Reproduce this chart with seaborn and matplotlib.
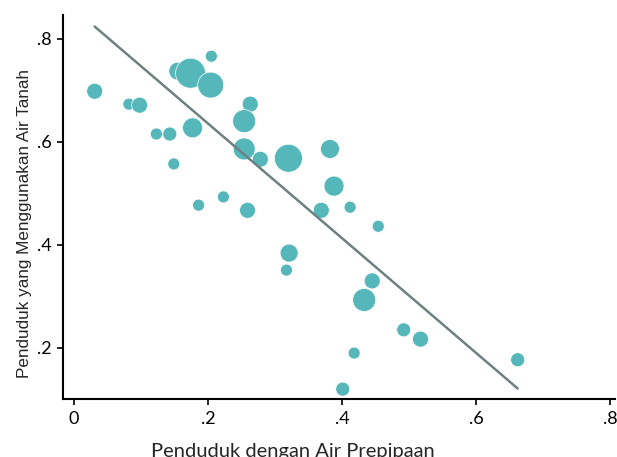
import numpy as np
import pandas as pd
import seaborn as sns
import matplotlib.pyplot as plt

# share of people with piped water vs. share using groundwater (bubble = weight)
piped = [0.031, 0.082, 0.098, 0.123, 0.143, 0.177, 0.149, 0.186, 0.155, 0.174, 0.205,
         0.204, 0.223, 0.263, 0.254, 0.254, 0.278, 0.320, 0.259, 0.382, 0.388, 0.412,
         0.369, 0.454, 0.321, 0.317, 0.445, 0.433, 0.492, 0.517, 0.418, 0.401, 0.662]
ground = [0.698, 0.673, 0.671, 0.615, 0.615, 0.627, 0.557, 0.477, 0.737, 0.733, 0.766,
          0.710, 0.493, 0.673, 0.640, 0.586, 0.566, 0.568, 0.467, 0.586, 0.514, 0.473,
          0.467, 0.436, 0.384, 0.351, 0.330, 0.293, 0.235, 0.217, 0.190, 0.120, 0.177]
weight = [64, 36, 64, 36, 49, 100, 36, 36, 81, 225, 36, 169, 36, 64, 132, 121, 64, 196,
          64, 90, 100, 36, 64, 36, 81, 36, 64, 132, 49, 64, 36, 49, 49]

# fitted line
fit_intercept = 0.858
fit_slope = -1.113

x_ticks = [0, 0.2, 0.4, 0.6, 0.8]
x_labels = ["0", ".2", ".4", ".6", ".8"]
y_ticks = [0.2, 0.4, 0.6, 0.8]
y_labels = [".2", ".4", ".6", ".8"]

df = pd.DataFrame({"piped": piped, "ground": ground, "weight": weight})

sns.set_style("ticks")
plt.rcParams["font.family"] = ["Lato", "DejaVu Sans"]

fig = plt.figure(figsize=(6.17, 4.57), dpi=100)
ax = fig.add_axes([0.102, 0.127, 0.895, 0.840])

sns.scatterplot(data=df, x="piped", y="ground", size="weight",
                size_norm=(0, max(weight)), sizes=(0, 466),
                color="#55B7BA", edgecolor="white", linewidth=0.5,
                alpha=1, legend=False, ax=ax, zorder=2)

xs = np.array([df["piped"].min(), df["piped"].max()])
ax.plot(xs, fit_intercept + fit_slope * xs, color="#6E8081", lw=1.8, zorder=3)

ax.set_xlim(-0.0164, 0.8074)
ax.set_ylim(0.1009, 0.8458)
ax.set_xticks(x_ticks, x_labels)
ax.set_yticks(y_ticks, y_labels)
ax.tick_params(axis="both", length=4, width=1.2, labelsize=13, color="black",
               labelcolor="black", pad=4)
ax.tick_params(axis="x", pad=5)

ax.set_xlabel("Penduduk dengan Air Prepipaan", fontsize=14.5, va="top")
ax.xaxis.set_label_coords(0.417, -0.116)
ax.set_ylabel("Penduduk yang Menggunakan Air Tanah", fontsize=12.3,
              family=["Liberation Sans"], va="center")
ax.yaxis.set_label_coords(-0.069, 0.458)

sns.despine(ax=ax)
for side in ["left", "bottom"]:
    ax.spines[side].set_linewidth(1.5)
    ax.spines[side].set_color("black")

fig.savefig("out.png", dpi=100)
